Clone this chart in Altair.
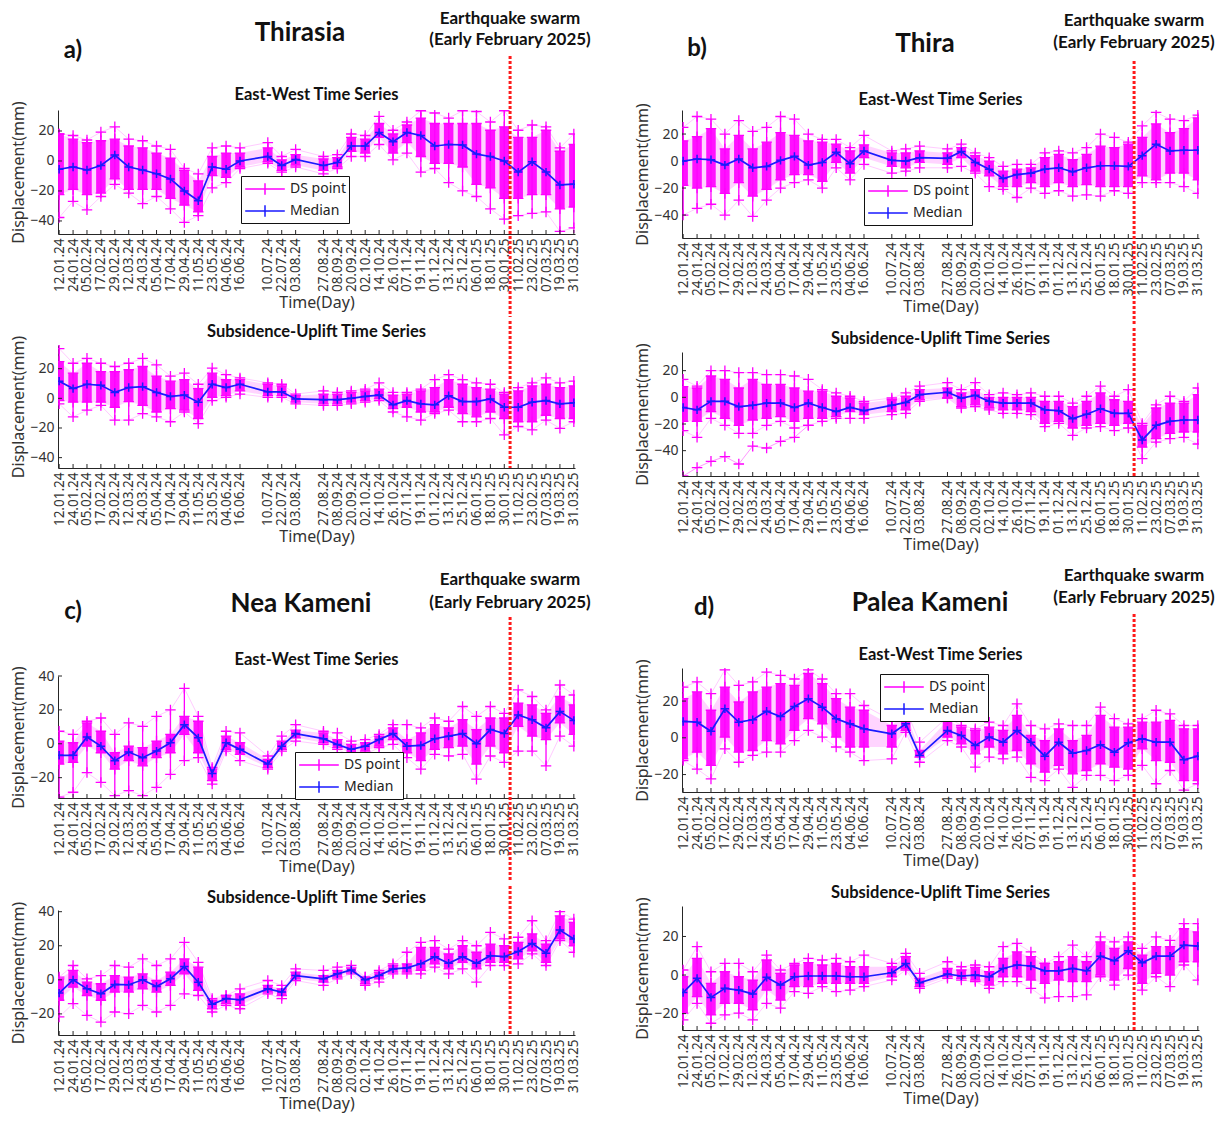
import altair as alt
import pandas as pd
from datetime import datetime, timezone

# ---------------- data ----------------
DATE_LABELS = ["12.01.24", "24.01.24", "05.02.24", "17.02.24", "29.02.24", "12.03.24", "24.03.24",
               "05.04.24", "17.04.24", "29.04.24", "11.05.24", "23.05.24", "04.06.24", "16.06.24",
               "10.07.24", "22.07.24", "03.08.24", "27.08.24", "08.09.24", "20.09.24", "02.10.24",
               "14.10.24", "26.10.24", "07.11.24", "19.11.24", "01.12.24", "13.12.24", "25.12.24",
               "06.01.25", "18.01.25", "30.01.25", "11.02.25", "23.02.25", "07.03.25", "19.03.25",
               "31.03.25"]
SWARM_DATE = "04.02.25"
X_DOMAIN = ["11.01.24", "01.04.25"]

PANEL_LETTERS = ["a)", "b)", "c)", "d)"]
PANEL_NAMES = ["Thirasia", "Thira", "Nea Kameni", "Palea Kameni"]
SWARM_TEXT = ["Earthquake swarm", "(Early February 2025)"]
SUB_TITLES = ["East-West Time Series", "Subsidence-Uplift Time Series"]
LEGEND_LABELS = ["DS point", "Median"]

# Panel a - Thirasia, East-West
A_EW_MED = [-5.5, -4, -6, -3, 4, -4, -6, -8.5, -12, -20, -26.5, -4, -5.5, 0, 3, -3, 1, -3, -1, 10, 10, 19,
            12.8, 19, 17, 10, 11, 10.7, 4.6, 3, 0, -7.4, -0.5, -7.4, -16, -15.5]
A_EW_MX = [18, 17, 14, 19.3, 22.8, 14.6, 13.5, 10, 7.7, -5, -8.6, 8.8, 10, 8.8, 12.3, 3, 7.7, 3, 4.2, 18, 17,
           29.8, 20.5, 26, 33.5, 32, 28.6, 33.5, 33, 26, 33.5, 20.5, 24, 22.8, 8.8, 18]
A_EW_HI = [18, 14.6, 12.3, 13.5, 14.6, 10, 8.8, 5.3, 1.9, -6.3, -13.3, 3, 5.3, 5.3, 8.8, 0.7, 4.2, 1.4, 2.3,
           15.8, 14.6, 25, 18, 24, 28.6, 25, 25, 25, 25, 20.5, 22.8, 15.8, 15.8, 20.5, 6.5, 11]
A_EW_LO = [-22.5, -19, -22.5, -21.4, -12, -19, -19, -19, -24.9, -29.5, -34, -9.8, -11, -4, -0.5, -6.3, -2.8,
           -6.3, -4, 6.5, 5.3, 15.8, 5.3, 12.3, 3, -1.6, -1.6, -4, -15.6, -18, -24.9, -24.9, -22.5, -22.5,
           -31.9, -30.7]
A_EW_MN = [-37.7, -27, -32.6, -23.7, -15.6, -21.4, -28.4, -23.7, -31.9, -41, -36.5, -18, -14.4, -5, -1.6,
           -7.4, -4, -8.6, -5, 3, 3, 11, 0.7, 5.3, -7.4, -5, -14.4, -20, -23.7, -31.9, -38.8, -36.5, -35,
           -34, -47, -44.6]

# Panel a - Thirasia, Subsidence-Uplift
A_SU_MED = [11.6, 6.6, 9.5, 8.8, 4, 7.3, 7.9, 4, 1.3, 2.2, -2.6, 9.5, 7.3, 9.5, 4.4, 4.4, -0.4, -0.9, -0.9,
            0, 1.3, 2.2, -4.4, -1.5, -3.7, -4.4, 1.8, -2.2, -2.2, -0.4, -6, -6, -2.6, -1.5, -3.7, -3]
A_SU_MX = [33.6, 23.7, 27, 23.7, 21.5, 23.7, 27, 22.6, 15, 17, 9.5, 20.4, 16, 13.8, 10.5, 9.5, 2.9, 5, 4, 5,
           6.2, 10.5, 4, 4, 6.2, 12.7, 16, 12.7, 10.5, 9.5, 4, 7.3, 10.5, 13.8, 10.5, 11.6]
A_SU_HI = [24.8, 17, 23.7, 18, 18, 19.3, 21.5, 15, 11.6, 12.7, 6.6, 17, 12.7, 12.7, 9.5, 8.4, 1.8, 2.9, 2.9,
           4, 5, 6.2, 2.2, 2.9, 5, 7.3, 12.7, 9.5, 7.3, 6.2, 2.9, 5, 8.4, 9.5, 7.3, 8.4]
A_SU_LO = [-1.5, -2.6, -2.6, -2.6, -6, -2.2, -4.8, -9.2, -7, -8, -13.6, 0.7, 1.8, 5, 1.8, 1.8, -2.6, -3.7,
           -3.7, -2.6, -1.5, -0.4, -7, -6, -9.2, -9.2, -6, -10.3, -12.5, -9.2, -13.6, -15.8, -15.8, -11.4,
           -13.6, -13.6]
A_SU_MN = [-3.7, -12.5, -8, -4.8, -14.7, -14.7, -10.3, -12.5, -15.8, -9.2, -17, -1.5, 0.7, 2.9, 0.7, 0.7,
           -3.7, -4.8, -4.8, -3.7, -2.6, -1.5, -9.2, -12.5, -14.7, -10.3, -8, -15.8, -15.8, -13.6, -24.6,
           -19, -21.3, -14.7, -20.2, -15.8]

# Panel b - Thira, East-West
B_EW_MED = [0, 1.5, 1, -3, 1.5, -5, -4, 0.5, 3.5, -3, -1, 6.5, -2, 7.5, 0.5, 0, 2.5, 2, 7, -1, -6, -13, -10,
            -9, -6, -5, -8, -5, -3.5, -3.5, -4, 4, 12.5, 7.5, 8, 8]
B_EW_MX = [25, 33, 31, 20, 30, 22, 25, 33, 31, 20, 16, 16, 10, 19, 7.5, 9, 11, 9, 12.5, 6, 2.5, -4, -2.5,
           -2.5, 6, 7.5, 6, 10, 20, 17.5, 14, 26, 36, 31, 30, 34]
B_EW_HI = [15, 18, 24, 9, 19, 9, 14, 21, 19, 15, 14, 12.5, 7.5, 12, 6, 6, 7.5, 6, 10, 4, 0, -7.5, -6, -5,
           2.5, 5, 1, 5, 11, 10, 12.5, 17.5, 27.5, 21, 24, 32]
B_EW_LO = [-18, -20, -19, -24, -16, -26, -21, -14, -10, -10, -15, -1, -9, 2.5, -4, -5, -1, -2.5, 2.5, -7.5,
           -11, -19, -19, -16, -19, -16, -19, -17.5, -19, -19, -19, -11, -14, -9, -9, -14]
B_EW_MN = [-40, -35, -32, -40, -29, -41, -29, -20, -16, -14, -20, -5, -14, -2.5, -9, -7.5, -5, -5, -4, -9,
           -19, -21, -27, -20, -24, -22, -26, -25, -26, -22, -24, -16, -16, -16, -19, -24]

# Panel b - Thira, Subsidence-Uplift
B_SU_MED = [-7.6, -9.4, -3, -3, -7, -6, -4.3, -4.3, -7.6, -4.3, -7.6, -10.7, -7.6, -10, -6, -3.8, 2, 3.8,
            -0.5, 1.5, -3, -4.3, -4.3, -4.3, -9.4, -10, -16, -12.7, -8.6, -12, -12, -32, -21, -18, -17, -17]
B_SU_MX = [13.5, 8.4, 20, 20, 18.6, 18.6, 17, 17, 16, 13.5, 5.8, 3.3, 0.8, -3, -0.5, 3.3, 8.4, 11, 5.8, 11,
           2, 3.3, 2, 3.3, 0.8, 0.8, -4.3, 0.8, 8.4, 0.8, 5.8, -19.6, -5.6, 0.8, -3, 7]
B_SU_HI = [8, 7, 16, 13.5, 7, 13.5, 9.7, 9.7, 7, 4.6, 4.6, 0.8, -0.5, -4.3, -1.8, 0.8, 5.8, 7, 3.3, 5.8, 0,
           0, 0, 0, -3, -3, -7, -3, 3.3, -1.8, -3, -21, -8, -4.3, -4.3, 2]
B_SU_LO = [-18, -18, -10.7, -15.8, -21, -17, -15.8, -14.5, -18, -15.8, -15.8, -14.5, -10.7, -13, -10.7,
           -9.4, -1.8, -0.5, -7, -5.6, -8, -9.4, -9.4, -10.7, -19.6, -18, -23, -21, -19.6, -21, -19.6,
           -37.4, -31, -27, -26, -26]
B_SU_MN = [-25, -30, -15.8, -21, -27, -27, -21, -18, -23, -21, -18, -15.8, -15.8, -15.8, -13, -12, -3, -0.5,
           -8, -7, -9.4, -12, -12, -13, -22, -19.6, -28.5, -23, -22, -25, -23, -46, -33.6, -31, -30, -35]
# one outlying DS point in panel b (first ten epochs)
B_SU_OUTLIER = [-59, -52.7, -48, -44.5, -50, -36.6, -38, -33, -30, -21]

# Panel c - Nea Kameni, East-West
C_EW_MED = [-6.8, -6.8, 4, -1.4, -10, -4.9, -8.2, -4.3, 0.6, 11.3, 3.5, -17.5, 0.6, -3.3, -12, -1.4, 6, 3,
            -0.4, -3.3, -1.4, 2.5, 6, -1.4, -1, 3, 4.5, 6, 0, 8.4, 6, 17, 14.2, 9.4, 19, 13.8]
C_EW_MX = [7.4, 5.5, 13.3, 15.2, 5.5, 12.3, 10.3, 16.2, 20, 32.7, 16.2, -14, 7.4, 6.4, -7.2, 4.5, 11.3, 7.4,
           6.4, 1.6, 2.5, 5.5, 11.3, 11.3, 9.4, 15.2, 13.3, 22, 16.2, 22, 18, 31.8, 27.9, 20, 34.7, 28.8]
C_EW_HI = [1.6, 0.6, 12.3, 7.4, -5.3, -1.4, -2.3, 1.6, 5.5, 16.2, 13.3, -15, 4.5, 0.6, -9.2, 1.6, 8, 6.4,
           2.5, -0.4, 0.6, 4.5, 9.4, 2.5, 6.4, 11.3, 9.4, 14.2, 8.4, 15.2, 15.2, 24, 23, 18, 27.9, 23]
C_EW_LO = [-12, -11, -1.4, -5.3, -15, -10, -13, -8.2, -5.3, 5.5, -5.3, -21.8, -3.3, -6.2, -14, -3.3, 3.5,
           0.6, -2.3, -5.3, -4.3, -1.4, 2.5, -5.3, -10, -3.3, -2.3, -1.4, -12, -1.4, -5.3, 10.3, 4.5, 2.5,
           12.3, 5.5]
C_EW_MN = [-31.5, -28.6, -17, -22.8, -30.6, -27.7, -30.6, -25.7, -18, -10, -8.2, -23.8, -4.3, -10, -15,
           -4.3, 1.6, -0.4, -3.3, -7.2, -6.2, -2.3, -0.4, -8.2, -15, -6.2, -7.2, -6.2, -20.9, -7.2, -11,
           -4.3, -4.3, -13, 4.5, -1.4]

# Panel c - Nea Kameni, Subsidence-Uplift
C_SU_MED = [-7.8, 0, -5.3, -8.2, -2.7, -2.9, 0, -3.9, 0.6, 7.8, -1.4, -14.4, -11, -11.7, -5.3, -7.2, 2.5,
            0.6, 3.5, 5.8, 0, 2.5, 6.4, 7, 9.4, 13.6, 9.7, 13.6, 9.7, 14.2, 13.6, 16.6, 21.4, 15.6, 29.2, 24]
C_SU_MX = [1.6, 8.4, 0.6, 2.5, 8.4, 7.4, 12.3, 8.4, 12.3, 22, 10.3, -11, -9.2, -5.3, -0.4, -3.3, 6.4, 5.5,
           7.4, 8.4, 1.6, 5.5, 9.4, 16.2, 22, 23, 18, 23, 20, 27.9, 24, 25, 34.7, 23, 40, 35.7]
C_SU_HI = [0.6, 5.5, -1.4, -2.3, 2.5, 1.6, 3.5, -0.4, 4.5, 12.3, 7.4, -12, -9.2, -8.2, -3.3, -5.3, 4.5, 2.5,
           5.5, 7, 1.6, 4.5, 8.4, 9.4, 19, 19, 15.2, 20, 16.2, 21, 20, 22, 27, 21, 37.6, 33.7]
C_SU_LO = [-12, -4.3, -9.2, -12, -7.2, -7.2, -5.3, -7.2, -3.3, 3.5, -6.2, -17, -14, -15, -7.2, -9.2, 0.6,
           -1.4, 1.6, 4.5, -2.3, 0.6, 4.5, 4.5, 5.5, 9.4, 6.4, 10.3, 6.4, 10.3, 10.3, 12.3, 17, 10.3, 24, 20]
C_SU_MN = [-21.8, -14, -20.9, -24.8, -18.9, -19.9, -15, -18.9, -15, -8.2, -9.2, -18.9, -15, -17, -8.2, -11,
           -0.4, -3.3, 0.6, 3.5, -3.3, -1.4, 3.5, 3.5, 3.5, 7.4, 3.5, 6.4, -1.4, 8.4, 8.4, 9.4, 15.2, 8.4,
           23, 16.2]

# Panel d - Palea Kameni, East-West
D_EW_MED = [8.9, 8.5, 3.6, 15.8, 8.5, 9.8, 14.5, 11.6, 17, 21.3, 16.7, 10.4, 7.6, 4.9, 2.2, 7.6, -9.6, 4,
            1.3, -4.2, 0.4, -2.4, 4, -2.4, -10, -2.4, -8.4, -6.9, -3.8, -7.8, -2.7, -0.5, -2.4, -2.4, -12,
            -10]
D_EW_MX = [27.6, 30.4, 24, 37, 28.5, 30.4, 35.8, 34, 32, 37, 32, 24, 24, 17.6, 9.5, 15.8, -2.4, 11.3, 6.7,
           4.9, 8.5, 6.7, 18.5, 6.7, 4.9, 7.6, 6.7, 6.7, 16.7, 10.4, 7.6, 10.4, 15, 13, 6.7, 6.7]
D_EW_HI = [21.3, 25, 15, 27.6, 19.5, 25, 27.6, 29.5, 28.5, 35, 29.5, 21.3, 16.7, 15, 6.7, 14, -6.9, 9.5,
           5.8, 4, 5.8, 4, 12.2, 1.3, -1.5, 4.9, -1.5, 1.3, 12.2, 5.8, 5.8, 8.5, 8.5, 9.5, 4.9, 4.9]
D_EW_LO = [-11.5, -7.8, -15, 0.4, -7.8, -6.9, -1.5, -3.3, 4, 10.4, 7.6, 0.4, -5, -5, -5, 4, -10.5, 0.4,
           -3.3, -8.7, -5, -8.7, -6.9, -14.2, -18.7, -15, -19.6, -17.8, -14.2, -16, -17, -6, -12.4, -13.3,
           -23.3, -23.3]
D_EW_MN = [-12.4, -17, -22.4, -6, -13.3, -9.6, -7.8, -7.8, -1.5, 4, 0.4, -5, -7.8, -12.4, -11.5, 3, -13.3,
           -1.5, -5, -16, -10.5, -11.5, -10.5, -21.5, -23.3, -17, -27, -20.5, -20.5, -23.3, -20.5, -15, -25,
           -17.8, -28.5, -25]

# Panel d - Palea Kameni, Subsidence-Uplift
D_SU_MED = [-9.1, -1.7, -11.6, -6.9, -7.8, -9.8, -1.2, -5.2, -0.9, -0.5, -0.5, -0.5, -0.9, -0.9, 1.2, 6, -4,
            0.5, -0.5, 0, -0.9, 3.4, 5.2, 4.7, 2.2, 2.2, 3.4, 2.2, 9.8, 7.4, 12.6, 6.4, 9.8, 9.8, 15.5, 15]
D_SU_MX = [2.6, 14.7, 1.7, 6, 6, 1.7, 10.3, 2.6, 6, 8.6, 7.8, 8.6, 6.9, 10.3, 6, 11.2, 0.9, 6.9, 4.3, 5.2,
           4.3, 14.7, 16.4, 12, 6, 9.5, 15.5, 9.5, 19.8, 17.2, 19.8, 13.8, 19.8, 18, 26.7, 26.7]
D_SU_HI = [-0.9, 8.6, -4.3, 1.7, -0.9, -2.6, 7.8, 0.9, 5.2, 6.4, 5.2, 6, 4.3, 4.3, 4.3, 9.5, -1.7, 3.4, 2.6,
           4, 1.7, 8.6, 12, 9.5, 6, 6.9, 9.5, 6.9, 17.2, 13.8, 17.2, 10.3, 14.7, 14.7, 24, 22.4]
D_SU_LO = [-19.8, -11.2, -20.7, -14.7, -14.7, -18, -7.8, -13, -6, -6, -4.3, -4.3, -4.3, -4.3, -0.9, 3.4,
           -6, -0.9, -1.7, -2.6, -5.2, -0.9, -0.9, -2.6, -4.3, -2.6, -3.4, -3.4, 0, -2.6, 3.4, -4.3, 0.9, 0,
           6.9, 6.9]
D_SU_MN = [-23.3, -14.7, -25, -20.7, -19.8, -23.3, -14.7, -17.2, -8.6, -9.5, -6, -8.6, -7.8, -6, -2.6, 2.6,
           -6.9, -1.7, -2.6, -3.4, -6.9, -3.4, -3.4, -6.9, -12, -11.2, -11.2, -10.3, -0.9, -5.2, 0, -7.8,
           -0.9, -6, 5.2, -2.6]

# ---------------- style ----------------
MAG = "#ff00ff"
PINK = "#ff7dff"
BLUE = "#1a1aff"
RED = "#ff1a1a"
AXC = "#262626"
TF = "Lato"
AF = "Noto Sans"
PLUS = "M-1,0L1,0M0,-1L0,1"
LEG_SYMBOL = "M-2.2,0L2.2,0M0,-0.65L0,0.65"
T_TOP = 24  # room kept above each lower plot (title + red line)
ADJ = 3     # stroke overhang measured in the layout
TICK_LEN = 4


def to_iso(s):
    d, m, y = s.split(".")
    return f"20{y}-{m}-{d}"


def to_ms(s):
    dt = datetime.strptime(to_iso(s), "%Y-%m-%d").replace(tzinfo=timezone.utc)
    return int(dt.timestamp() * 1000)


ISO = [to_iso(s) for s in DATE_LABELS]
TICKS = [to_ms(s) for s in DATE_LABELS]
XDOM = [to_ms(s) for s in X_DOMAIN]

XAXIS = alt.Axis(values=TICKS, format="%d.%m.%y", labelAngle=270, labelFont=AF, labelFontSize=13.5,
                 labelColor="#333333", labelPadding=4, ticks=False, grid=False, domainColor=AXC,
                 titleFont=AF, titleFontSize=16, titleFontWeight="normal", titleColor="#333333",
                 titlePadding=3, labelOverlap=False, labelBound=False, labelFlush=False)


def one_text(txt, tx, ty, fs, font=TF, weight="bold"):
    return alt.Chart(pd.DataFrame({"t": [txt]})).mark_text(
        font=font, fontSize=fs, fontWeight=weight, align="center", baseline="middle", color="#111111"
    ).encode(text="t:N", x=alt.value(tx), y=alt.value(ty))


def subplot(series, ydom, yvals, w, h, title, title_y, red_top, red_bot, frame,
            header=None, legend_xy=None, outlier=None):
    med, mx, hi, lo, mn = series
    df = pd.DataFrame({"date": ISO, "med": med, "mx": mx, "hi": hi, "lo": lo, "mn": mn})
    base = alt.Chart(df)
    X = alt.X("date:T", title="Time(Day)", scale=alt.Scale(type="utc", domain=XDOM), axis=XAXIS)

    def Y(f):
        return alt.Y(f + ":Q", title="Displacement(mm)",
                     scale=alt.Scale(domain=ydom, nice=False, zero=False),
                     axis=alt.Axis(values=yvals, labelFont=AF, labelFontSize=14, labelColor="#333333",
                                   ticks=False, grid=False, domainColor=AXC, labelPadding=4,
                                   titleFont=AF, titleFontSize=16, titleFontWeight="normal",
                                   titleColor="#333333", titlePadding=3))

    layers = [
        base.mark_area(color=MAG, opacity=0.17, clip=True).encode(x=X, y=Y("lo"), y2="hi"),
        base.mark_line(color=PINK, strokeWidth=0.8, opacity=0.5, clip=True).encode(x=X, y=Y("mx")),
        base.mark_line(color=PINK, strokeWidth=0.8, opacity=0.5, clip=True).encode(x=X, y=Y("mn")),
        base.mark_rule(color=MAG, strokeWidth=1.3, clip=True).encode(x=X, y=Y("mn"), y2="mx"),
        base.mark_rule(color=MAG, strokeWidth=9.5, opacity=0.92, clip=True).encode(x=X, y=Y("lo"), y2="hi"),
        base.transform_fold(["mx", "hi", "lo", "mn"], as_=["k", "v"]).mark_point(
            shape=PLUS, size=110, filled=False, color=MAG, strokeWidth=1.3, opacity=1, clip=True
        ).encode(x=X, y=Y("v")),
    ]
    if outlier is not None:
        odf = pd.DataFrame({"date": ISO[:len(outlier)], "v": outlier})
        ob = alt.Chart(odf)
        layers += [
            ob.mark_line(color=PINK, strokeWidth=1, opacity=0.8, clip=True).encode(x=X, y=Y("v")),
            ob.mark_point(shape=PLUS, size=110, filled=False, color=MAG, strokeWidth=1.3, opacity=1,
                          clip=True).encode(x=X, y=Y("v")),
        ]
    # inward tick marks (MATLAB style)
    layers += [
        alt.Chart(pd.DataFrame({"date": ISO})).mark_rule(color=AXC, strokeWidth=1).encode(
            x=X, y=alt.value(h), y2=alt.value(h - TICK_LEN)),
        alt.Chart(pd.DataFrame({"v": yvals})).mark_rule(color=AXC, strokeWidth=1).encode(
            y=Y("v"), x=alt.value(0), x2=alt.value(TICK_LEN)),
    ]
    layers += [
        base.mark_line(color=BLUE, strokeWidth=1.7, clip=True).encode(x=X, y=Y("med")),
        base.mark_point(shape=PLUS, size=70, filled=False, color=BLUE, strokeWidth=1.5, opacity=1,
                        clip=True).encode(x=X, y=Y("med")),
        alt.Chart(pd.DataFrame({"date": [to_iso(SWARM_DATE)]})).mark_rule(
            color=RED, strokeWidth=3, strokeDash=[3, 2]
        ).encode(x=X, y=alt.value(red_top), y2=alt.value(red_bot)),
        one_text(title, w / 2, title_y, 16.5),
    ]
    # invisible frame fixing the extent each panel takes in the layout
    f_left, f_top, f_right, f_bot = frame
    fr = alt.Chart(pd.DataFrame({"a": [0]}))
    layers += [
        fr.mark_rule(opacity=0, strokeWidth=1).encode(x=alt.value(-f_left), x2=alt.value(w + f_right),
                                                      y=alt.value(-f_top)),
        fr.mark_rule(opacity=0, strokeWidth=1).encode(x=alt.value(-f_left), x2=alt.value(w + f_right),
                                                      y=alt.value(h + f_bot)),
    ]
    if header is not None:
        for txt, tx, ty, fs in header:
            layers.append(one_text(txt, tx, ty, fs))
    if legend_xy is not None:
        ldf = pd.DataFrame({"date": [ISO[0], ISO[0]], "v": [0, 0], "series": LEGEND_LABELS})
        layers.append(
            alt.Chart(ldf).mark_point(shape=PLUS, size=0, filled=False, strokeWidth=1.5).encode(
                x=X, y=Y("v"),
                color=alt.Color("series:N",
                                scale=alt.Scale(domain=LEGEND_LABELS, range=[MAG, BLUE]),
                                legend=alt.Legend(orient="none", legendX=legend_xy[0], legendY=legend_xy[1],
                                                  title=None, symbolType=LEG_SYMBOL, symbolSize=324,
                                                  symbolStrokeWidth=1.5, symbolOpacity=1, symbolOffset=11,
                                                  labelFont=AF, labelFontSize=14, labelColor="#222222",
                                                  fillColor="white", strokeColor="#111111", padding=3,
                                                  rowPadding=3, labelOffset=15))
            )
        )
    return alt.layer(*layers).properties(width=w, height=h)


def header_for(i, letter_xy, name_xy, swarm_x, swarm_y, gap=21):
    return [(PANEL_LETTERS[i], letter_xy[0], letter_xy[1], 24),
            (PANEL_NAMES[i], name_xy[0], name_xy[1], 26),
            (SWARM_TEXT[0], swarm_x, swarm_y, 17),
            (SWARM_TEXT[1], swarm_x, swarm_y + gap, 17)]


def vstack(*charts, spacing):
    return alt.vconcat(*charts, spacing=spacing).resolve_scale(color="independent")


def hstack(*charts, spacing):
    return alt.hconcat(*charts, spacing=spacing).resolve_scale(color="independent")


W = 517
FL = 47  # left room for the y axis labels and title
# Panel a  (gap EW-bottom -> SU-top : 110)
a_ew = subplot((A_EW_MED, A_EW_MX, A_EW_HI, A_EW_LO, A_EW_MN), [-48.7, 34], [-40, -20, 0, 20], W, 124,
               SUB_TITLES[0], -15, -54, 124 + 110 - T_TOP - ADJ, (FL, 95, 10, 0),
               header=header_for(0, (15, -59), (242, -77), 452, -91), legend_xy=(183, 66))
a_su = subplot((A_SU_MED, A_SU_MX, A_SU_HI, A_SU_LO, A_SU_MN), [-47, 36], [-40, -20, 0, 20], W, 123,
               SUB_TITLES[1], -13, -T_TOP, 123, (FL, T_TOP, 10, 90))
# Panel b  (gap 113)
b_ew = subplot((B_EW_MED, B_EW_MX, B_EW_HI, B_EW_LO, B_EW_MN), [-57, 37.8], [-40, -20, 0, 20], W, 128,
               SUB_TITLES[0], -10, -49, 128 + 113 - T_TOP - ADJ, (FL, 99, 5, 0),
               header=header_for(1, (15, -61), (243, -66), 452, -89, 22), legend_xy=(182, 68))
b_su = subplot((B_SU_MED, B_SU_MX, B_SU_HI, B_SU_LO, B_SU_MN), [-59, 34], [-40, -20, 0, 20], W, 124,
               SUB_TITLES[1], -13, -T_TOP, 124, (FL, T_TOP, 5, 86), outlier=B_SU_OUTLIER)
# Panel c  (gap 111)
c_ew = subplot((C_EW_MED, C_EW_MX, C_EW_HI, C_EW_LO, C_EW_MN), [-32, 40], [-20, 0, 20, 40], W, 122,
               SUB_TITLES[0], -16, -59, 122 + 111 - T_TOP - ADJ, (FL, 110, 10, 0),
               header=header_for(2, (15, -64), (243, -72), 452, -96, 23), legend_xy=(237, 76))
c_su = subplot((C_SU_MED, C_SU_MX, C_SU_HI, C_SU_LO, C_SU_MN), [-32.4, 41], [-20, 0, 20, 40], W, 125,
               SUB_TITLES[1], -12, -T_TOP, 125, (FL, T_TOP, 10, 0))
# Panel d  (gap 113)
d_ew = subplot((D_EW_MED, D_EW_MX, D_EW_HI, D_EW_LO, D_EW_MN), [-29.5, 38], [-20, 0, 20], W, 124,
               SUB_TITLES[0], -13, -54, 124 + 113 - T_TOP - ADJ, (FL, 103, 5, 0),
               header=header_for(3, (22, -60), (248, -65), 452, -92, 22), legend_xy=(198, 6))
d_su = subplot((D_SU_MED, D_SU_MX, D_SU_HI, D_SU_LO, D_SU_MN), [-28.5, 35.8], [-20, 0, 20], W, 124,
               SUB_TITLES[1], -13, -T_TOP, 124, (FL, T_TOP, 5, 0))

panel_a = vstack(a_ew, a_su, spacing=0)
panel_b = vstack(b_ew, b_su, spacing=0)
panel_c = vstack(c_ew, c_su, spacing=0)
panel_d = vstack(d_ew, d_su, spacing=0)

col1 = vstack(panel_a, panel_c, spacing=8)
col2 = vstack(panel_b, panel_d, spacing=3)

chart = hstack(col1, col2, spacing=42).properties(
    padding={"left": 2, "top": 2, "right": 2, "bottom": 4},
    background="white",
).configure_view(stroke=None)

chart.save("out.html", embed_options={"renderer": "svg", "actions": False})
